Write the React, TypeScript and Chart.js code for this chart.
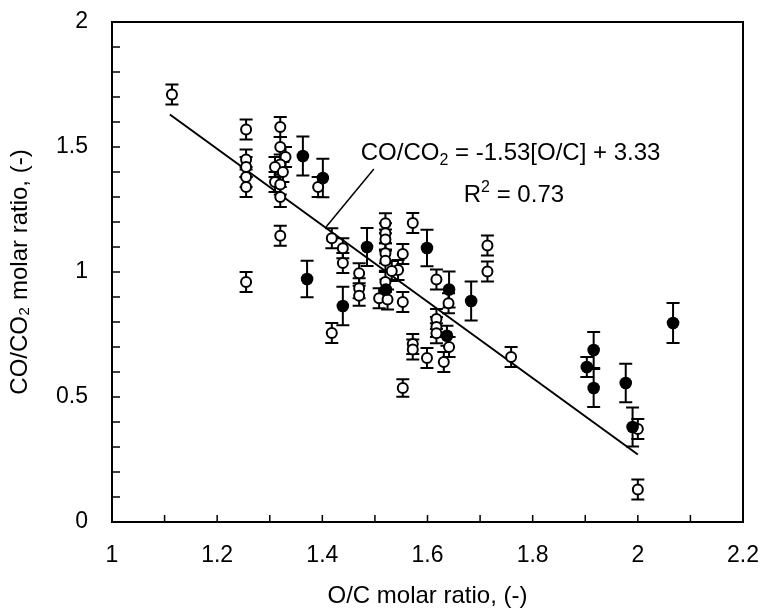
import React, { useEffect, useRef } from "react";
import { Chart, registerables } from "chart.js";

Chart.register(...registerables);

// ---- data ----
const openX = [1.114, 1.255, 1.255, 1.255, 1.255, 1.255, 1.255, 1.32, 1.32, 1.33, 1.32, 1.31, 1.325, 1.31, 1.32, 1.32, 1.32, 1.392, 1.418, 1.439, 1.439, 1.47, 1.47, 1.47, 1.418, 1.52, 1.52, 1.52, 1.52, 1.52, 1.52, 1.508, 1.524, 1.553, 1.544, 1.532, 1.553, 1.572, 1.572, 1.572, 1.553, 1.599, 1.617, 1.617, 1.617, 1.617, 1.64, 1.641, 1.631, 1.714, 1.714, 1.759, 2.0, 2.0];
const openY = [1.71, 1.57, 1.45, 1.42, 1.38, 1.34, 0.96, 1.58, 1.5, 1.46, 1.43, 1.42, 1.4, 1.36, 1.35, 1.3, 1.145, 1.34, 1.135, 1.095, 1.036, 0.995, 0.935, 0.905, 0.756, 1.195, 1.155, 1.13, 1.075, 1.045, 0.96, 0.895, 0.89, 1.072, 1.008, 1.004, 0.88, 1.196, 0.712, 0.69, 0.536, 0.656, 0.97, 0.812, 0.78, 0.755, 0.875, 0.7, 0.64, 1.106, 1.002, 0.66, 0.372, 0.13];
const openErr = [0.04, 0.04, 0.04, 0.04, 0.04, 0.04, 0.04, 0.04, 0.04, 0.04, 0.04, 0.04, 0.04, 0.04, 0.04, 0.04, 0.04, 0.04, 0.04, 0.04, 0.04, 0.04, 0.04, 0.04, 0.04, 0.04, 0.04, 0.04, 0.04, 0.04, 0.04, 0.04, 0.04, 0.04, 0.04, 0.04, 0.04, 0.04, 0.04, 0.04, 0.035, 0.04, 0.04, 0.04, 0.04, 0.04, 0.04, 0.04, 0.04, 0.04, 0.04, 0.04, 0.04, 0.04];

const filledX = [1.363, 1.401, 1.485, 1.371, 1.439, 1.599, 1.641, 1.683, 1.637, 1.521, 1.916, 1.903, 1.916, 1.977, 1.99, 2.067];
const filledY = [1.464, 1.376, 1.1, 0.972, 0.864, 1.096, 0.93, 0.884, 0.745, 0.93, 0.688, 0.62, 0.536, 0.556, 0.38, 0.796];
const filledErr = [0.078, 0.077, 0.076, 0.073, 0.077, 0.073, 0.072, 0.078, 0.04, 0.04, 0.072, 0.04, 0.076, 0.077, 0.078, 0.08];

const fitX = [1.11, 2.0];
const fitY = [1.63, 0.27];
const leaderX = [1.407, 1.498];
const leaderY = [1.18, 1.412];

const xTicks = [1, 1.2, 1.4, 1.6, 1.8, 2, 2.2];
const yTicks = [0, 0.5, 1, 1.5, 2];
const xMinor = [1.1, 1.2, 1.3, 1.4, 1.5, 1.6, 1.7, 1.8, 1.9, 2.0, 2.1];
const yMinor = [0.1, 0.2, 0.3, 0.4, 0.5, 0.6, 0.7, 0.8, 0.9, 1.0, 1.1, 1.2, 1.3, 1.4, 1.5, 1.6, 1.7, 1.8, 1.9];

const xTitle = "O/C molar ratio, (-)";
const yTitle = "CO/CO\u2082 molar ratio, (-)";
const eqAnchor = [1.473, 1.448];
const r2Anchor = [1.669, 1.28];

const FONT = '"Liberation Sans", Arial, Helvetica, sans-serif';

const errorBarPlugin = {
  id: "errorBars",
  beforeDatasetsDraw(chart: any) {
    const { ctx, scales } = chart;
    const y = scales.y;
    ctx.save();
    ctx.strokeStyle = "#000";
    ctx.lineWidth = 2;
    chart.data.datasets.forEach((ds: any, i: number) => {
      if (!ds.errors) return;
      const meta = chart.getDatasetMeta(i);
      meta.data.forEach((pt: any, j: number) => {
        const v = ds.data[j].y;
        const e = ds.errors[j];
        const px = pt.x;
        const top = y.getPixelForValue(v + e);
        const bot = y.getPixelForValue(v - e);
        ctx.beginPath();
        ctx.moveTo(px, top);
        ctx.lineTo(px, bot);
        ctx.moveTo(px - 6.5, top);
        ctx.lineTo(px + 6.5, top);
        ctx.moveTo(px - 6.5, bot);
        ctx.lineTo(px + 6.5, bot);
        ctx.stroke();
      });
    });
    ctx.restore();
  },
};

const framePlugin = {
  id: "frame",
  afterDatasetsDraw(chart: any) {
    const { ctx, chartArea: a, scales } = chart;
    const { x, y } = scales;
    ctx.save();
    ctx.strokeStyle = "#000";
    ctx.lineWidth = 2;
    ctx.strokeRect(a.left, a.top, a.right - a.left, a.bottom - a.top);
    ctx.beginPath();
    xMinor.forEach((v) => {
      const px = x.getPixelForValue(v);
      ctx.moveTo(px, a.bottom);
      ctx.lineTo(px, a.bottom - 7);
    });
    yMinor.forEach((v) => {
      const py = y.getPixelForValue(v);
      ctx.moveTo(a.left, py);
      ctx.lineTo(a.left + 8, py);
    });
    ctx.lineWidth = 1.5;
    ctx.stroke();

    // annotation text
    ctx.fillStyle = "#000";
    ctx.textBaseline = "alphabetic";
    ctx.textAlign = "left";
    const big = `24px ${FONT}`;
    const small = `16px ${FONT}`;
    let px = x.getPixelForValue(eqAnchor[0]);
    let py = y.getPixelForValue(eqAnchor[1]);
    ctx.font = big;
    ctx.fillText("CO/CO", px, py);
    px += ctx.measureText("CO/CO").width;
    ctx.font = small;
    ctx.fillText("2", px, py + 5);
    px += ctx.measureText("2").width;
    ctx.font = big;
    ctx.fillText(" = -1.53[O/C] + 3.33", px, py);

    px = x.getPixelForValue(r2Anchor[0]);
    py = y.getPixelForValue(r2Anchor[1]);
    ctx.fillText("R", px, py);
    px += ctx.measureText("R").width;
    ctx.font = small;
    ctx.fillText("2", px, py - 10);
    px += ctx.measureText("2").width;
    ctx.font = big;
    ctx.fillText(" = 0.73", px, py);
    ctx.restore();
  },
};

export default function App() {
  const ref = useRef<HTMLCanvasElement | null>(null);
  useEffect(() => {
    if (!ref.current) return;
    const chart = new Chart(ref.current, {
      type: "scatter",
      data: {
        datasets: [
          {
            label: "filled",
            data: filledX.map((v, i) => ({ x: v, y: filledY[i] })),
            errors: filledErr,
            pointRadius: 6.3,
            pointBackgroundColor: "#000",
            pointBorderColor: "#000",
            pointBorderWidth: 0,
          } as any,
          {
            label: "open",
            data: openX.map((v, i) => ({ x: v, y: openY[i] })),
            errors: openErr,
            pointRadius: 5,
            pointBackgroundColor: "#fff",
            pointBorderColor: "#000",
            pointBorderWidth: 2,
          } as any,
          {
            type: "line",
            label: "fit",
            data: fitX.map((v, i) => ({ x: v, y: fitY[i] })),
            borderColor: "#000",
            borderWidth: 2,
            pointRadius: 0,
            showLine: true,
            fill: false,
          } as any,
          {
            type: "line",
            label: "leader",
            data: leaderX.map((v, i) => ({ x: v, y: leaderY[i] })),
            borderColor: "#000",
            borderWidth: 1.5,
            pointRadius: 0,
            showLine: true,
            fill: false,
          } as any,
        ],
      },
      options: {
        responsive: false,
        animation: false,
        devicePixelRatio: 1,
        layout: { padding: { top: 22, right: 18, left: 0, bottom: 0 } },
        plugins: { legend: { display: false }, tooltip: { enabled: false } },
        scales: {
          x: {
            type: "linear",
            min: 1,
            max: 2.2,
            afterBuildTicks: (s: any) => {
              s.ticks = xTicks.map((v) => ({ value: v }));
            },
            afterFit: (s: any) => {
              s.height = 93;
              s.paddingLeft = 0;
              s.paddingRight = 0;
            },
            grid: { display: false },
            border: { display: false },
            ticks: {
              color: "#000",
              padding: 12,
              font: { size: 23, family: FONT },
              callback: (v: any) => String(v),
              maxRotation: 0,
              autoSkip: false,
            },
            title: {
              display: true,
              text: xTitle,
              color: "#000",
              font: { size: 24, family: FONT },
              padding: { top: 0, bottom: 4 },
            },
          },
          y: {
            type: "linear",
            min: 0,
            max: 2,
            afterBuildTicks: (s: any) => {
              s.ticks = yTicks.map((v) => ({ value: v }));
            },
            afterFit: (s: any) => {
              s.width = 112;
              s.paddingTop = 0;
              s.paddingBottom = 0;
            },
            grid: { display: false },
            border: { display: false },
            ticks: {
              color: "#000",
              padding: 16,
              font: { size: 23, family: FONT },
              callback: (v: any) => String(v),
              autoSkip: false,
            },
            title: {
              display: true,
              text: yTitle,
              color: "#000",
              font: { size: 24, family: FONT },
              padding: { top: 6, bottom: 0 },
            },
          },
        },
      } as any,
      plugins: [errorBarPlugin, framePlugin],
    });
    return () => chart.destroy();
  }, []);
  return (
    <div style={{ position: "fixed", left: 0, top: 0, width: 761, height: 615, background: "#fff" }}>
      <canvas ref={ref} width={761} height={615} style={{ display: "block" }} />
    </div>
  );
}
